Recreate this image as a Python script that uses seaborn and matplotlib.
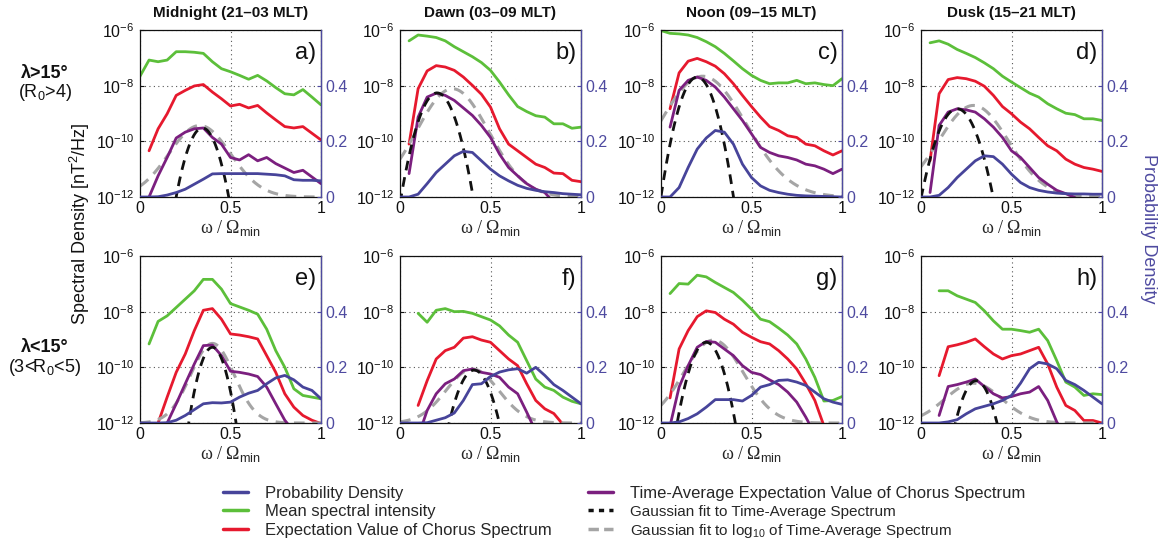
import numpy as np
import pandas as pd
import matplotlib
matplotlib.use("Agg")
import matplotlib.pyplot as plt
import seaborn as sns
from matplotlib.ticker import FixedLocator, NullLocator, FuncFormatter
from matplotlib.lines import Line2D

nan = np.nan

# normalised frequency bins (omega / Omega_min)
OMEGA = [0.00, 0.05, 0.10, 0.15, 0.20, 0.25, 0.30, 0.35, 0.40, 0.45, 0.50,
         0.55, 0.60, 0.65, 0.70, 0.75, 0.80, 0.85, 0.90, 0.95, 1.00]

# spectral curves stored as log10(nT^2/Hz); probability density is linear
# ---- lambda > 15 deg ----
mean_a = [-7.66, -7.08, -7.14, -7.08, -6.78, -6.78, -6.80, -6.84, -7.14, -7.39, -7.50,
          -7.63, -7.77, -7.63, -7.83, -8.07, -8.29, -8.33, -8.14, -8.41, -8.69]
expect_a = [nan, -10.34, -9.55, -9.01, -8.35, -8.17, -8.01, -7.96, -8.23, -8.47, -8.73,
            -8.67, -8.80, -8.71, -8.98, -9.23, -9.47, -9.52, -9.47, -9.71, -9.95]
tavg_a = [nan, -12.00, -11.24, -10.58, -9.88, -9.67, -9.55, -9.52, -9.86, -10.10, -10.58,
          -10.67, -10.48, -10.70, -10.58, -10.80, -10.96, -11.12, -11.04, -11.28, -11.52]
prob_a = [0.0, 0.0, 0.001, 0.007, 0.016, 0.028, 0.046, 0.064, 0.083, 0.084, 0.084,
          0.084, 0.084, 0.084, 0.082, 0.080, 0.076, 0.062, 0.060, 0.060, 0.058]

mean_b = [nan, -6.39, -6.18, -6.22, -6.27, -6.39, -6.60, -6.78, -6.96, -7.17, -7.45,
          -7.87, -8.33, -8.75, -8.93, -9.08, -9.13, -9.37, -9.37, -9.53, -9.49]
expect_b = [nan, -10.10, -8.11, -7.47, -7.28, -7.33, -7.45, -7.69, -7.99, -8.31, -8.77,
            -9.55, -10.10, -10.34, -10.58, -10.82, -10.94, -11.14, -11.16, -11.40, -11.45]
tavg_b = [nan, -11.16, -9.13, -8.41, -8.27, -8.35, -8.53, -8.80, -9.07, -9.43, -9.86,
          -10.46, -10.94, -11.24, -11.52, -11.72, -11.84, -12.20, nan, nan, nan]
prob_b = [0.0, 0.0, 0.010, 0.048, 0.088, 0.118, 0.148, 0.164, 0.160, 0.130, 0.100,
          0.076, 0.058, 0.042, 0.031, 0.024, 0.019, 0.016, 0.012, 0.010, 0.008]

mean_c = [-6.02, -6.12, -6.14, -6.18, -6.27, -6.42, -6.60, -6.84, -7.11, -7.39, -7.63,
          -7.81, -7.93, -7.90, -7.90, -7.81, -7.93, -7.90, -7.96, -8.00, -7.75]
expect_c = [nan, -8.83, -7.54, -7.12, -7.02, -7.14, -7.30, -7.57, -7.93, -8.35, -8.75,
            -9.13, -9.47, -9.61, -9.80, -9.86, -10.10, -10.16, -10.34, -10.49, -10.34]
tavg_c = [nan, -9.49, -8.17, -7.81, -7.69, -7.81, -8.05, -8.41, -8.83, -9.25, -9.73,
          -10.22, -10.40, -10.52, -10.58, -10.67, -10.82, -10.88, -11.00, -11.16, -11.00]
prob_c = [0.0, 0.0, 0.034, 0.106, 0.172, 0.212, 0.239, 0.233, 0.190, 0.118, 0.070,
          0.040, 0.024, 0.016, 0.010, 0.006, 0.004, 0.003, 0.002, 0.001, 0.0]

mean_d = [nan, -6.46, -6.39, -6.51, -6.70, -6.84, -6.99, -7.18, -7.39, -7.66, -7.87,
          -8.07, -8.27, -8.41, -8.65, -8.83, -8.99, -9.04, -9.19, -9.19, -9.25]
expect_d = [nan, -10.70, -8.29, -7.78, -7.71, -7.75, -7.84, -8.02, -8.35, -8.75, -9.01,
            -9.31, -9.55, -9.86, -10.16, -10.34, -10.64, -10.82, -10.94, -11.00, -11.08]
tavg_d = [nan, -11.84, -9.43, -8.95, -8.83, -8.87, -8.95, -9.19, -9.49, -9.86, -10.34,
          -10.58, -10.94, -11.30, -11.54, -11.76, -11.88, -12.02, -12.30, nan, nan]
prob_d = [0.0, 0.0, 0.006, 0.034, 0.070, 0.100, 0.130, 0.148, 0.145, 0.118, 0.082,
          0.052, 0.034, 0.024, 0.018, 0.014, 0.012, 0.011, 0.011, 0.010, 0.010]

# ---- lambda < 15 deg ----
mean_e = [nan, -9.16, -8.35, -8.15, -7.85, -7.55, -7.25, -6.84, -6.84, -7.19, -7.71,
          -7.83, -7.95, -8.09, -8.63, -9.40, -10.00, -10.77, -11.01, -11.07, -11.13]
expect_e = [nan, nan, -12.00, -11.07, -10.18, -9.52, -8.68, -7.95, -7.89, -8.27, -8.80,
            -8.84, -8.90, -8.98, -9.58, -10.18, -10.95, -11.43, -11.73, -11.90, -12.02]
tavg_e = [nan, nan, nan, -12.00, -11.31, -10.59, -9.88, -9.22, -9.20, -9.58, -10.14,
          -10.18, -10.24, -10.33, -10.71, -11.31, -11.90, -12.30, nan, nan, nan]
prob_e = [0.0, 0.0, 0.0, 0.001, 0.010, 0.027, 0.048, 0.069, 0.073, 0.072, 0.075,
          0.093, 0.107, 0.117, 0.141, 0.162, 0.171, 0.155, 0.129, 0.117, 0.087]

mean_f = [nan, nan, -8.06, -8.38, -7.95, -7.89, -8.00, -7.99, -8.06, -8.18, -8.30,
          -8.51, -8.84, -9.10, -9.76, -10.42, -10.71, -10.83, -11.07, -11.22, -11.31]
expect_f = [nan, nan, -11.37, -10.48, -9.70, -9.40, -9.28, -8.95, -8.90, -9.02, -9.10,
            -9.40, -9.70, -9.94, -10.59, -11.19, -11.49, -11.66, -12.05, nan, nan]
tavg_f = [nan, nan, -12.50, -11.55, -10.95, -10.59, -10.42, -10.12, -10.06, -10.18, -10.24,
          -10.36, -10.71, -10.95, -11.61, -12.30, nan, nan, nan, nan, nan]
prob_f = [0.0, 0.0, 0.0, 0.001, 0.010, 0.019, 0.036, 0.081, 0.138, 0.141, 0.167,
          0.183, 0.191, 0.195, 0.179, 0.200, 0.171, 0.138, 0.117, 0.093, 0.069]

mean_g = [nan, -7.35, -6.99, -7.01, -6.69, -6.75, -6.95, -7.13, -7.31, -7.59, -7.91,
          -8.27, -8.36, -8.59, -8.84, -9.16, -9.70, -10.36, -11.21, -11.19, -11.05]
expect_g = [nan, -11.10, -9.34, -8.68, -8.18, -7.97, -8.03, -8.27, -8.45, -8.74, -8.92,
            -9.08, -9.16, -9.40, -9.70, -10.06, -10.59, -11.19, -12.10, nan, nan]
tavg_g = [nan, -12.10, -10.71, -9.94, -9.28, -9.07, -9.10, -9.34, -9.58, -9.94, -10.18,
          -10.26, -10.45, -10.62, -10.89, -11.25, -11.79, -12.40, nan, nan, nan]
prob_g = [0.0, 0.0, 0.004, 0.016, 0.033, 0.057, 0.084, 0.084, 0.084, 0.079, 0.099,
          0.129, 0.138, 0.153, 0.155, 0.147, 0.135, 0.111, 0.087, 0.075, 0.067]

mean_h = [nan, nan, -7.25, -7.25, -7.43, -7.55, -7.67, -7.97, -8.33, -8.63, -8.63,
          -8.68, -8.74, -8.63, -9.04, -9.76, -10.53, -10.71, -11.01, -10.95, -10.98]
expect_h = [nan, nan, -10.30, -9.26, -9.19, -9.10, -8.98, -9.26, -9.52, -9.70, -9.58,
            -9.52, -9.40, -9.28, -9.88, -10.71, -11.37, -11.55, -11.91, -11.91, -12.00]
tavg_h = [nan, nan, -11.73, -10.69, -10.62, -10.53, -10.42, -10.69, -10.95, -11.10, -11.05,
          -10.95, -10.89, -10.69, -11.19, -11.96, -12.50, nan, nan, nan, nan]
prob_h = [0.0, 0.0, 0.0, 0.004, 0.012, 0.033, 0.051, 0.060, 0.069, 0.081, 0.099,
          0.143, 0.195, 0.218, 0.212, 0.195, 0.153, 0.138, 0.117, 0.093, 0.069]

# Gaussian fit to the time-average spectrum: (log10 peak, centre, width)
fit_lin_a = (-9.52, 0.345, 0.043)
fit_lin_b = (-8.26, 0.205, 0.048)
fit_lin_c = (-7.69, 0.200, 0.045)
fit_lin_d = (-8.83, 0.200, 0.052)
fit_lin_e = (-9.28, 0.400, 0.037)
fit_lin_f = (-10.10, 0.410, 0.047)
fit_lin_g = (-9.10, 0.250, 0.044)
fit_lin_h = (-10.48, 0.305, 0.0435)

# Gaussian fit to log10 of the time-average spectrum: (log10 peak, centre, width)
fit_log_a = (-9.43, 0.33, 0.170)
fit_log_b = (-8.11, 0.29, 0.200)
fit_log_c = (-7.66, 0.23, 0.240)
fit_log_d = (-8.71, 0.29, 0.195)
fit_log_e = (-9.14, 0.40, 0.120)
fit_log_f = (-10.06, 0.40, 0.145)
fit_log_g = (-9.02, 0.29, 0.165)
fit_log_h = (-10.57, 0.29, 0.157)
LOG_FIT_BASE = -12.0

MLT_TITLES = ["Midnight (21\u201303 MLT)", "Dawn (03\u201309 MLT)",
              "Noon (09\u201315 MLT)", "Dusk (15\u201321 MLT)"]
PANEL_TAGS = ["a)", "b)", "c)", "d)", "e)", "f)", "g)", "h)"]

panels = [
    (mean_a, expect_a, tavg_a, prob_a, fit_lin_a, fit_log_a),
    (mean_b, expect_b, tavg_b, prob_b, fit_lin_b, fit_log_b),
    (mean_c, expect_c, tavg_c, prob_c, fit_lin_c, fit_log_c),
    (mean_d, expect_d, tavg_d, prob_d, fit_lin_d, fit_log_d),
    (mean_e, expect_e, tavg_e, prob_e, fit_lin_e, fit_log_e),
    (mean_f, expect_f, tavg_f, prob_f, fit_lin_f, fit_log_f),
    (mean_g, expect_g, tavg_g, prob_g, fit_lin_g, fit_log_g),
    (mean_h, expect_h, tavg_h, prob_h, fit_lin_h, fit_log_h),
]

C_PROB = "#47449A"
C_MEAN = "#5CBF3A"
C_EXP = "#E6192E"
C_TAVG = "#7B1F7F"
C_GFIT = "#111111"
C_LFIT = "#A5A5A5"
C_PTXT = "#4E4AA0"

sns.set_theme(style="white")
plt.rcParams['font.family'] = ['Liberation Sans', 'DejaVu Sans']
plt.rcParams['mathtext.fontset'] = 'custom'
plt.rcParams['mathtext.rm'] = 'Liberation Sans'
plt.rcParams['mathtext.it'] = 'Liberation Sans:italic'
plt.rcParams['mathtext.bf'] = 'Liberation Sans:bold'

W, H = 1163, 546
fig = plt.figure(figsize=(W / 100, H / 100), dpi=100)

COL_X = [140, 400, 661, 921]
ROW_TOP = [30, 256]
AX_W, AX_H = 181, 167

x_fine = np.linspace(0, 1, 401)
lw = 2.0
DASH = (0, (3.5, 2.5))


def sci_label(v, pos):
    return r"$\mathdefault{10^{%d}}$" % int(round(np.log10(v)))


for i, (mean, expect, tavg, prob, flin, flog) in enumerate(panels):
    row, col = divmod(i, 4)
    rect = [COL_X[col] / W, 1 - (ROW_TOP[row] + AX_H) / H, AX_W / W, AX_H / H]
    ax = fig.add_axes(rect)
    ax.set_yscale('log')

    df = pd.DataFrame({
        "w": OMEGA,
        "mean": 10.0 ** np.array(mean),
        "expect": 10.0 ** np.array(expect),
        "tavg": 10.0 ** np.array(tavg),
        "prob": prob,
    })
    pk, mu, sg = flin
    fit_lin = 10.0 ** pk * np.exp(-(x_fine - mu) ** 2 / (2 * sg ** 2))
    pk2, mu2, sg2 = flog
    fit_log = 10.0 ** (LOG_FIT_BASE + (pk2 - LOG_FIT_BASE) *
                       np.exp(-(x_fine - mu2) ** 2 / (2 * sg2 ** 2)))
    dfit = pd.DataFrame({"w": x_fine, "glin": fit_lin, "glog": fit_log})

    sns.lineplot(data=df, x="w", y="mean", ax=ax, color=C_MEAN, lw=lw, errorbar=None)
    sns.lineplot(data=df, x="w", y="expect", ax=ax, color=C_EXP, lw=lw, errorbar=None)
    sns.lineplot(data=dfit, x="w", y="glog", ax=ax, color=C_LFIT, lw=2.2,
                 linestyle=DASH, errorbar=None)
    sns.lineplot(data=df, x="w", y="tavg", ax=ax, color=C_TAVG, lw=lw, errorbar=None)
    sns.lineplot(data=dfit, x="w", y="glin", ax=ax, color=C_GFIT, lw=2.0,
                 linestyle=DASH, errorbar=None)

    ax.set_xlim(0, 1)
    ax.set_ylim(1e-12, 1e-6)
    ax.yaxis.set_major_locator(FixedLocator([1e-12, 1e-10, 1e-8, 1e-6]))
    ax.yaxis.set_minor_locator(NullLocator())
    ax.yaxis.set_major_formatter(FuncFormatter(sci_label))
    ax.set_xticks([0, 0.5, 1])
    ax.set_xticklabels(["0", "0.5", "1"])
    ax.tick_params(axis='both', direction='in', length=3, width=0.8,
                   labelsize=11.5, colors='#111111', pad=3)
    ax.tick_params(axis='y', pad=4)
    ax.grid(True, which='major', linestyle=(0, (1, 3)), color='#555555', lw=0.8)
    ax.set_ylabel("")
    ax.set_xlabel("\u03c9 / \u03a9$_{\\mathrm{min}}$", fontsize=13,
                  family=['Liberation Serif', 'DejaVu Serif'], labelpad=1)
    for s in ax.spines.values():
        s.set_color('#111111')
        s.set_linewidth(0.9)

    ax2 = ax.twinx()
    sns.lineplot(data=df, x="w", y="prob", ax=ax2, color=C_PROB, lw=lw, errorbar=None)
    ax2.set_ylim(0, 0.6)
    ax2.set_xlim(0, 1)
    ax2.set_yticks([0, 0.2, 0.4])
    ax2.set_yticklabels(["0", "0.2", "0.4"])
    ax2.tick_params(axis='y', direction='in', length=3, width=0.8, labelsize=11.5,
                    colors=C_PTXT, labelcolor=C_PTXT, pad=3)
    ax2.set_ylabel("")
    ax2.spines['right'].set_color(C_PTXT)
    ax2.spines['right'].set_linewidth(0.9)
    for s in ['left', 'top', 'bottom']:
        ax2.spines[s].set_visible(False)

    ax.text(0.975, 0.93, PANEL_TAGS[i], transform=ax.transAxes, ha='right', va='top',
            fontsize=17, color='#111111', zorder=10)
    if row == 0:
        ax.set_title(MLT_TITLES[col], fontsize=11, fontweight='bold', pad=9,
                     color='#111111')

# row descriptors
fig.text(45 / W, 1 - 73 / H, "\u03bb>15\u00b0", ha='center', va='center',
         fontsize=13, fontweight='bold', color='#111111')
fig.text(45 / W, 1 - 92 / H, "(R$_0$>4)", ha='center', va='center',
         fontsize=13, color='#111111')
fig.text(45 / W, 1 - 348 / H, "\u03bb<15\u00b0", ha='center', va='center',
         fontsize=13, fontweight='bold', color='#111111')
fig.text(45 / W, 1 - 367 / H, "(3<R$_0$<5)", ha='center', va='center',
         fontsize=13, color='#111111')

fig.text(80 / W, 1 - 224 / H, "Spectral Density [nT$^2$/Hz]", rotation=90,
         ha='center', va='center', fontsize=13, color='#111111')
fig.text(1148 / W, 1 - 229 / H, "Probability Density", rotation=270,
         ha='center', va='center', fontsize=13, color=C_PTXT)

handles = [
    Line2D([], [], color=C_PROB, lw=2.5),
    Line2D([], [], color=C_MEAN, lw=2.5),
    Line2D([], [], color=C_EXP, lw=2.5),
    Line2D([], [], color=C_TAVG, lw=2.5),
    Line2D([], [], color=C_GFIT, lw=2.5, linestyle=(0, (1.5, 1.5))),
    Line2D([], [], color=C_LFIT, lw=2.5, linestyle=(0, (3, 1.5))),
]
labels = [
    "Probability Density",
    "Mean spectral intensity",
    "Expectation Value of Chorus Spectrum",
    "Time-Average Expectation Value of Chorus Spectrum",
    "Gaussian fit to Time-Average Spectrum",
    "Gaussian fit to log$_{10}$ of Time-Average Spectrum",
]
leg = fig.legend(handles, labels, ncol=2, loc='center', bbox_to_anchor=(624 / W, 1 - 513 / H),
                 frameon=False, fontsize=12, handlelength=1.5, handletextpad=1.0,
                 columnspacing=2.2, labelspacing=0.2)
for t in leg.get_texts()[4:]:
    t.set_fontsize(11)

fig.savefig("out.png", dpi=100)
